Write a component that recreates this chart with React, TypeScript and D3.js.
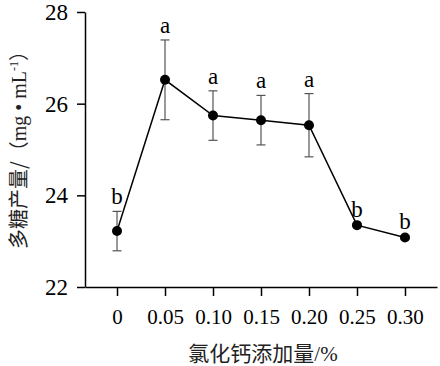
import React, { useEffect, useRef } from "react";
import { axisBottom, axisLeft, line, scaleLinear, scalePoint, select } from "d3";

const doses = ["0", "0.05", "0.10", "0.15", "0.20", "0.25", "0.30"];
const yields = [23.22, 26.52, 25.74, 25.64, 25.53, 23.35, 23.08];
const errs = [0.43, 0.87, 0.54, 0.54, 0.69, 0.03, 0.03];
const letters = ["b", "a", "a", "a", "a", "b", "b"];
const yTicks = [22, 24, 26, 28];

const FONT = "'Liberation Serif', 'Times New Roman', serif";
const CJK = "'Noto Sans CJK SC', sans-serif";

function AxisLeft({ scale, transform }) {
  const ref = useRef(null);
  useEffect(() => {
    const g = select(ref.current);
    g.call(
      axisLeft(scale)
        .tickValues(yTicks)
        .tickFormat((d) => String(d))
        .tickSize(8)
        .tickPadding(9)
        .tickSizeOuter(0)
    );
    g.attr("font-family", FONT).attr("font-size", 23);
    g.selectAll("text").attr("fill", "#000");
    g.selectAll(".domain, .tick line").attr("stroke", "#000").attr("stroke-width", 1.5);
  }, [scale]);
  return <g ref={ref} transform={transform} />;
}

function AxisBottom({ scale, transform }) {
  const ref = useRef(null);
  useEffect(() => {
    const g = select(ref.current);
    g.call(axisBottom(scale).tickSize(9).tickPadding(13).tickSizeOuter(0));
    g.attr("font-family", FONT).attr("font-size", 21);
    g.selectAll("text").attr("fill", "#000");
    g.selectAll(".domain, .tick line").attr("stroke", "#000").attr("stroke-width", 1.5);
  }, [scale]);
  return <g ref={ref} transform={transform} />;
}

export default function App() {
  const width = 440;
  const height = 366;
  const left = 85;
  const right = 437;
  const top = 12;
  const bottom = 287;

  const x = scalePoint().domain(doses).range([left, right]).padding(0.667);
  const y = scaleLinear().domain([22, 28]).range([bottom, top]);

  const pts = doses.map((d, i) => ({ d, v: yields[i], e: errs[i], l: letters[i] }));
  const path = line<any>().x((p) => x(p.d)).y((p) => y(p.v))(pts);

  return (
    <svg width={width} height={height} style={{ position: "absolute", left: 0, top: 0, background: "#fff" }}>
      <AxisLeft scale={y} transform={`translate(${left},0)`} />
      <AxisBottom scale={x} transform={`translate(0,${bottom})`} />

      {pts.map((p) => (
        <g key={`err-${p.d}`} stroke="#555" strokeWidth={1.2}>
          <line x1={x(p.d)} x2={x(p.d)} y1={y(p.v + p.e)} y2={y(p.v - p.e)} />
          <line x1={x(p.d) - 4.5} x2={x(p.d) + 4.5} y1={y(p.v + p.e)} y2={y(p.v + p.e)} />
          <line x1={x(p.d) - 4.5} x2={x(p.d) + 4.5} y1={y(p.v - p.e)} y2={y(p.v - p.e)} />
        </g>
      ))}

      <path d={path} fill="none" stroke="#000" strokeWidth={1.5} />
      {pts.map((p) => (
        <circle key={`pt-${p.d}`} cx={x(p.d)} cy={y(p.v)} r={5} fill="#000" />
      ))}

      {pts.map((p) => (
        <text
          key={`lt-${p.d}`}
          x={x(p.d)}
          y={y(p.v + p.e) - 7}
          textAnchor="middle"
          fontFamily={FONT}
          fontSize={23}
        >
          {p.l}
        </text>
      ))}

      <text
        x={263}
        y={361}
        textAnchor="middle"
        fontFamily={CJK}
        fontSize={21}
        fill="#222"
      >
        氯化钙添加量<tspan fontFamily={FONT}>/%</tspan>
      </text>

      <text
        transform="translate(26,145) rotate(-90)"
        textAnchor="middle"
        fontSize={20}
        fill="#222"
      >
        <tspan fontFamily={CJK}>多糖产量/（</tspan>
        <tspan fontFamily={FONT}>mg • mL</tspan>
        <tspan fontFamily={FONT} fontSize={12} dy={-8}>-1</tspan>
        <tspan fontFamily={CJK} dy={8}>）</tspan>
      </text>
    </svg>
  );
}
